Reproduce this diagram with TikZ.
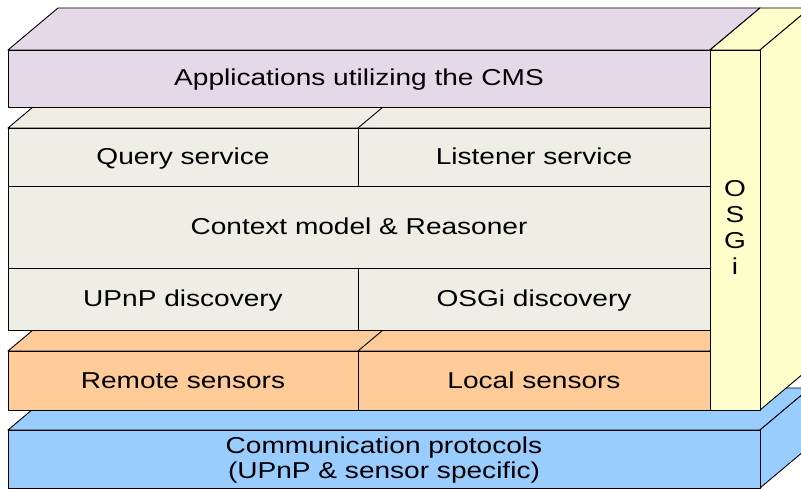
\documentclass[tikz,border=0pt]{standalone}
\usepackage{fontspec}
\setmainfont[FakeStretch=1.22]{Liberation Sans}
\definecolor{appcol}{HTML}{E5D9E9}
\definecolor{svccol}{HTML}{EEEEE4}
\definecolor{sencol}{HTML}{FFCC99}
\definecolor{comcol}{HTML}{99CCFF}
\definecolor{osgcol}{HTML}{FFFFCC}
\tikzset{
  face/.style={draw=black, line width=0.9pt, line join=round},
  lbl/.style={font=\fontsize{23}{24.5}\selectfont, align=center, inner sep=0pt},
  bl/.style={lbl, anchor=base},
}
% a slab: front face from (#1,#2) to (#3,#4), extruded back by (50,-42)
\newcommand\drawslab[5]{%
  \filldraw[face, fill=#5] (#1,#2) -- (#3,#2) -- ++(50,-42) -- ++(-#3+#1,0) -- cycle;
  \filldraw[face, fill=#5] (#3,#2) -- ++(50,-42) -- ++(0,#4-#2) -- (#3,#4) -- cycle;
  \filldraw[face, fill=#5] (#1,#2) rectangle (#3,#4);
}
\begin{document}
\begin{tikzpicture}[x=1pt, y=-1pt]
\useasboundingbox (0,0) rectangle (801,489);
\clip (0,0) rectangle (801,489);
\fill[white] (0,0) rectangle (801,489);

% communication layer
\drawslab{8}{430}{760}{488}{comcol}
\node[lbl] (comm) at (384,460) {Communication protocols\\(UPnP \& sensor specific)};

% sensor layer
\drawslab{8}{351}{710}{410}{sencol}
\draw[face] (358,351) -- ++(50,-42);
\draw[face] (358,351) -- (358,410);
\node[bl] (remote) at (183,388.5) {Remote sensors};
\node[bl] (local) at (534,388.5) {Local sensors};

% context management layer
\drawslab{8}{128}{710}{330}{svccol}
\draw[face] (358,128) -- ++(50,-42);
\draw[face] (8,186) -- (710,186);
\draw[face] (8,268) -- (710,268);
\draw[face] (358,128) -- (358,186);
\draw[face] (358,268) -- (358,330);
\node[bl] (query) at (183,165) {Query service};
\node[bl] (listen) at (534,165) {Listener service};
\node[bl] (ctx) at (359,234.5) {Context model \& Reasoner};
\node[bl] (upnp) at (183,307) {UPnP discovery};
\node[bl] (osgidisc) at (534,307) {OSGi discovery};

% applications layer
\drawslab{8}{50}{710}{107}{appcol}
\node[bl] (apps) at (359,86) {Applications utilizing the CMS};

% OSGi framework column
\drawslab{710}{50}{760}{410}{osgcol}
\node[lbl, font=\fontsize{23}{26}\selectfont] (osgi) at (735,227) {O\\S\\G\\i};
\end{tikzpicture}
\end{document}
